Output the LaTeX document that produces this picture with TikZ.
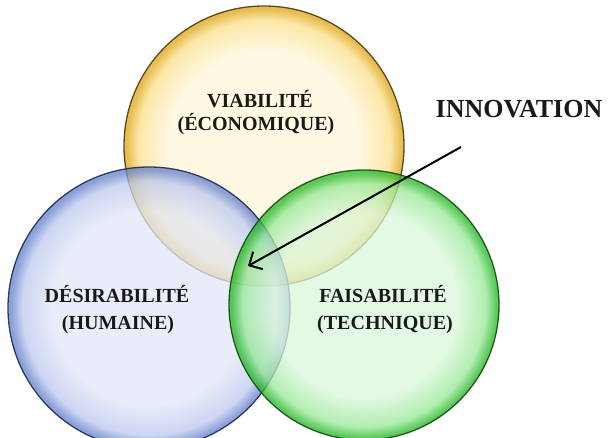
\documentclass[tikz,border=0pt]{standalone}
\usepackage{fontspec}
\setmainfont{Liberation Serif}
\usetikzlibrary{arrows.meta}
\definecolor{yIn}{HTML}{FFF6DA}
\definecolor{yMid}{HTML}{FBE08A}
\definecolor{yRim}{HTML}{E0A818}
\definecolor{yLine}{HTML}{4A3A10}
\definecolor{bIn}{HTML}{E2E8F8}
\definecolor{bMid}{HTML}{BCC8EE}
\definecolor{bRim}{HTML}{6582CC}
\definecolor{bLine}{HTML}{1E2A55}
\definecolor{gIn}{HTML}{DCF8DC}
\definecolor{gMid}{HTML}{98E898}
\definecolor{gRim}{HTML}{24B824}
\definecolor{gLine}{HTML}{124A12}
\pgfdeclareradialshading{ballY}{\pgfpoint{0bp}{0bp}}{color(0bp)=(yIn); color(17bp)=(yIn); color(22.5bp)=(yMid); color(24.5bp)=(yRim); color(25bp)=(yRim); color(50bp)=(yRim)}
\pgfdeclareradialshading{ballB}{\pgfpoint{0bp}{0bp}}{color(0bp)=(bIn); color(17bp)=(bIn); color(22.5bp)=(bMid); color(24.5bp)=(bRim); color(25bp)=(bRim); color(50bp)=(bRim)}
\pgfdeclareradialshading{ballG}{\pgfpoint{0bp}{0bp}}{color(0bp)=(gIn); color(17bp)=(gIn); color(22.5bp)=(gMid); color(24.5bp)=(gRim); color(25bp)=(gRim); color(50bp)=(gRim)}
\tikzset{
  ball/.style={circle, inner sep=0pt, line width=1.3pt, fill opacity=0.75, draw opacity=0.9},
  lbl/.style={anchor=base, inner sep=0pt, font=\fontsize{20}{24}\selectfont\bfseries, text=black!90},
  biglbl/.style={anchor=base, inner sep=0pt, font=\fontsize{26}{30}\selectfont\bfseries, text=black!90},
  pointer/.style={line width=2pt, -{Straight Barb[length=10pt,width=20pt]}}
}
\begin{document}
\begin{tikzpicture}[x=1pt,y=-1pt]
\fill[white] (0,0) rectangle (610,438);
\useasboundingbox (0,0) rectangle (610,438);
\node[ball, minimum size=280pt, shading=ballY, draw=yLine] (viab) at (264,146) {};
\node[ball, minimum size=282pt, shading=ballB, draw=bLine] (desi) at (149,308) {};
\node[ball, minimum size=270pt, shading=ballG, draw=gLine] (fais) at (364,305) {};
\node[lbl] (t1) at (260,108) {VIABILITÉ};
\node[lbl] (t2) at (256,131) {(ÉCONOMIQUE)};
\node[lbl] (t3) at (117,302) {DÉSIRABILITÉ};
\node[lbl] (t4) at (118,329) {(HUMAINE)};
\node[lbl] (t5) at (383,302) {FAISABILITÉ};
\node[lbl] (t6) at (385,329) {(TECHNIQUE)};
\node[biglbl] (inno) at (519,118) {INNOVATION};
\coordinate (astart) at (461,147);
\coordinate (atip) at (248,266);
\draw[pointer] (astart) -- (atip);
\end{tikzpicture}
\end{document}
